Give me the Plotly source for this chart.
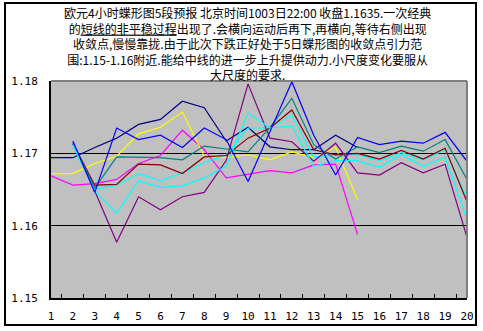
import plotly.graph_objects as go

# Forecast steps (4-hour bars)
steps = [str(i) for i in range(1, 21)]

# Forecast paths, EUR/USD
navy = [1.1694, 1.1694, 1.1708, 1.1721, 1.1740, 1.1747, 1.1772, 1.1763, 1.1717, 1.1736,
        1.1709, 1.1705, 1.1705, 1.1725, 1.1708, None, None, None, None, None]
yellow = [1.1672, 1.1672, 1.1686, 1.1696, 1.1727, 1.1736, 1.1757, 1.1696, 1.1694, 1.1698,
          1.1691, 1.1702, 1.1694, 1.1708, 1.1636, None, None, None, None, None]
magenta = [1.1669, 1.1656, 1.1658, 1.1664, 1.1686, 1.1697, 1.1732, 1.1705, 1.1666, 1.1671,
           1.1676, 1.1673, 1.1684, 1.1685, 1.1588, None, None, None, None, None]
blue = [None, 1.1717, 1.1646, 1.1735, 1.1719, 1.1725, 1.1708, 1.1735, 1.1719, 1.1661,
        1.1731, 1.1799, 1.1725, 1.1670, 1.1722, 1.1712, 1.1717, 1.1714, 1.1729, 1.1689]
teal = [None, 1.1714, 1.1652, 1.1695, 1.1695, 1.1694, 1.1691, 1.1710, 1.1706, 1.1702,
        1.1736, 1.1776, 1.1712, 1.1692, 1.1709, 1.1701, 1.1710, 1.1703, 1.1719, 1.1664]
maroon = [None, 1.1714, 1.1656, 1.1657, 1.1685, 1.1684, 1.1672, 1.1695, 1.1697, 1.1721,
          1.1735, 1.1760, 1.1705, 1.1698, 1.1700, 1.1692, 1.1704, 1.1692, 1.1707, 1.1633]
cyan_a = [None, 1.1712, 1.1648, 1.1617, 1.1662, 1.1653, 1.1655, 1.1666, 1.1682, 1.1756,
          1.1735, 1.1738, 1.1682, 1.1690, 1.1690, 1.1681, 1.1698, 1.1682, 1.1695, 1.1609]
cyan_b = [None, 1.1712, 1.1650, 1.1656, 1.1672, 1.1662, 1.1673, 1.1687, 1.1698, 1.1735,
          1.1735, 1.1753, 1.1695, 1.1697, 1.1698, 1.1690, 1.1701, 1.1691, 1.1705, 1.1638]
purple = [None, 1.1713, 1.1648, 1.1577, 1.1640, 1.1622, 1.1640, 1.1646, 1.1690, 1.1796,
          1.1721, 1.1716, 1.1689, 1.1714, 1.1673, 1.1670, 1.1687, 1.1673, 1.1685, 1.1584]

y_ticks = [1.15, 1.16, 1.17, 1.18]

series = [
    (navy, "#000080"),
    (magenta, "#FF00FF"),
    (yellow, "#FFFF00"),
    (cyan_b, "#00FFFF"),
    (purple, "#800080"),
    (maroon, "#800000"),
    (teal, "#008080"),
    (cyan_a, "#00FFFF"),
    (blue, "#0000FF"),
]

title_lines = [
    "欧元4小时蝶形图5段预报 北京时间1003日22:00 收盘1.1635.一次经典",
    "的<u>短线的非平稳过程</u>出现了.会横向运动后再下,再横向,等待右侧出现",
    "收敛点,慢慢靠拢.由于此次下跌正好处于5日蝶形图的收敛点引力范",
    "围:1.15-1.16附近.能给中线的进一步上升提供动力.小尺度变化要服从",
    "大尺度的要求.",
]

fig = go.Figure()
for vals, color in series:
    fig.add_trace(go.Scatter(
        x=steps, y=vals, mode="lines",
        line=dict(color=color, width=1.2),
        connectgaps=False, showlegend=False, hoverinfo="skip",
    ))

W, H = 483, 331
L, R, T, B = 51, 16, 81, 33
pw, ph = W - L - R, H - T - B


def px(x):
    return (x - L) / pw


def py(y):
    return (H - B - y) / ph


fig.update_layout(
    width=W, height=H,
    margin=dict(l=L, r=R, t=T, b=B, pad=0),
    paper_bgcolor="white",
    plot_bgcolor="#C0C0C0",
    font=dict(family="Noto Sans CJK SC", size=12, color="black"),
    xaxis=dict(
        type="category", tickson="boundaries", ticks="inside", ticklen=4,
        tickcolor="black", tickwidth=1, showline=True, linecolor="black",
        linewidth=2, showgrid=False, zeroline=False, tickangle=0,
        tickfont=dict(family="DejaVu Sans Mono", size=11, color="black"),
        ticklabelstandoff=7, automargin=False,
    ),
    yaxis=dict(
        range=[1.15, 1.18], tickvals=y_ticks, tickformat=".2f",
        showline=True, linecolor="black", linewidth=2,
        showgrid=True, gridcolor="black", gridwidth=1.2, zeroline=False,
        ticks="", tickfont=dict(family="DejaVu Sans Mono", size=11, color="black"),
        ticklabelstandoff=9, automargin=False,
    ),
    annotations=[dict(
        text="<br>".join(title_lines), xref="paper", yref="paper",
        x=px(247), y=py(44), xanchor="center", yanchor="middle",
        align="center", showarrow=False,
        font=dict(family="Noto Sans CJK SC", size=12, color="black"),
    )],
    shapes=[
        # outer frame
        dict(type="rect", xref="paper", yref="paper",
             x0=px(5), x1=px(476), y0=py(325), y1=py(3),
             line=dict(color="black", width=2), layer="above"),
        # gray top and right edges of the plotting area
        dict(type="line", xref="paper", yref="paper", x0=0, x1=1, y0=1, y1=1,
             line=dict(color="#808080", width=2), layer="above"),
        dict(type="line", xref="paper", yref="paper", x0=1, x1=1, y0=0, y1=1,
             line=dict(color="#808080", width=2), layer="above"),
    ],
)

fig.write_html("out.html")
